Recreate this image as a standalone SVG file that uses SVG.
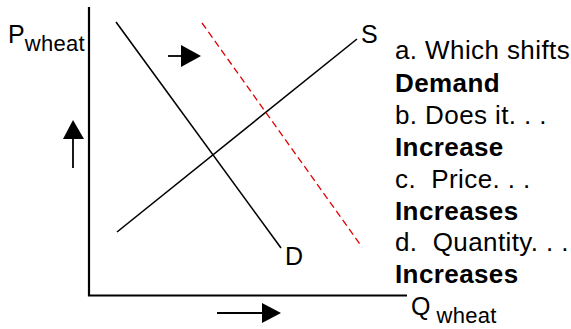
<svg xmlns="http://www.w3.org/2000/svg" width="571" height="329" viewBox="0 0 571 329">
<style>
text{font-family:"Liberation Sans",Arial,sans-serif;fill:#000;white-space:pre}
.lbl{font-size:25px}
.sub{font-size:22px;letter-spacing:0.3px}
.q{font-size:26px;letter-spacing:0.4px}
.a{font-size:26px;letter-spacing:0.4px;font-weight:bold}
.axis{stroke:#000;stroke-width:2.2;fill:none}
.curve{stroke:#000;stroke-width:1.6;fill:none}
.shift{stroke:#e00000;stroke-width:1.3;stroke-dasharray:7 4;fill:none}
.shaft{stroke:#000;stroke-width:1.8}
</style>
<rect width="571" height="329" fill="#fff"/>
<g id="axes">
<path class="axis" d="M89 7 V295.5 H407"/>
</g>
<g id="connectors">
<line class="curve" x1="116" y1="22" x2="281" y2="248"/>
<line class="curve" x1="117" y1="232" x2="357" y2="39"/>
<line class="shift" x1="202" y1="23" x2="362" y2="247"/>
<line class="shaft" x1="73" y1="168" x2="73" y2="137"/>
<polygon points="73,120 63,139 84,139"/>
<line class="shaft" x1="168" y1="56" x2="183" y2="56"/>
<polygon points="201,56 181,45 181,67"/>
<line class="shaft" x1="217" y1="313" x2="264" y2="313"/>
<polygon points="281,313 262,303 262,323"/>
</g>
<g id="label-p"><text x="8" y="43" class="lbl">P<tspan class="sub" dy="8">wheat</tspan></text></g>
<g id="label-q"><text x="411" y="315" class="lbl">Q<tspan class="sub" dx="6" dy="8">wheat</tspan></text></g>
<g id="label-s"><text x="361" y="43" class="lbl">S</text></g>
<g id="label-d"><text x="285" y="265" class="lbl">D</text></g>
<g id="questions">
<text x="395" y="59" class="q">a. Which shifts</text>
<text x="395" y="91.5" class="a">Demand</text>
<text x="395" y="123.5" class="q">b. Does it. . .</text>
<text x="395" y="156" class="a">Increase</text>
<text x="395" y="187.5" class="q">c.  Price. . .</text>
<text x="395" y="219.5" class="a">Increases</text>
<text x="395" y="251" class="q">d.  Quantity. . .</text>
<text x="395" y="283" class="a">Increases</text>
</g>
</svg>
